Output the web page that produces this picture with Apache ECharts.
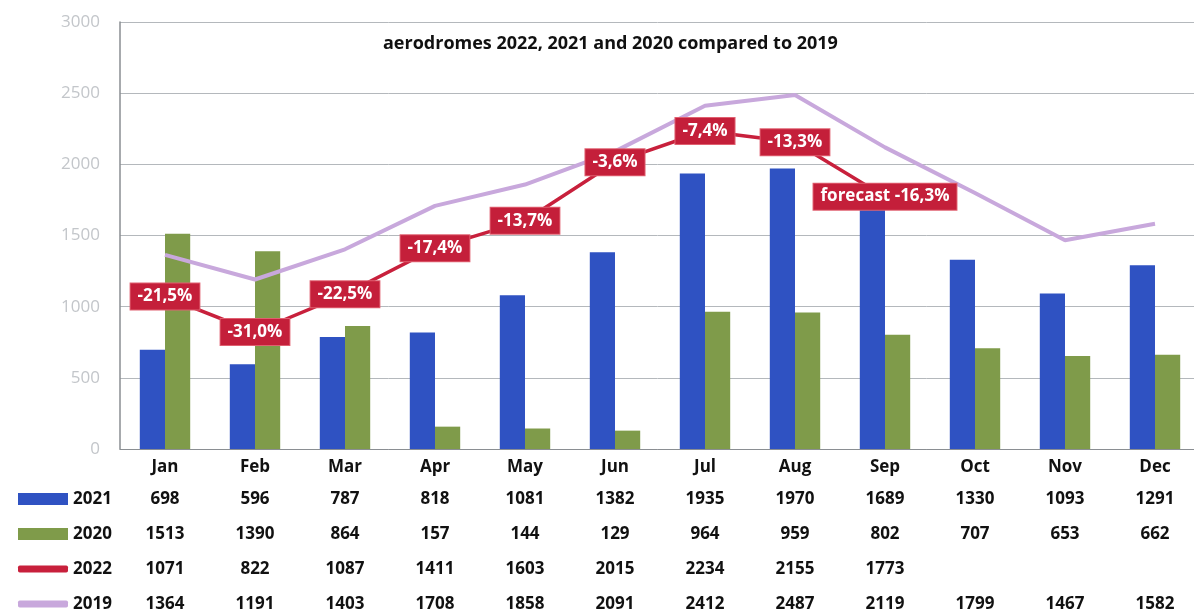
<!DOCTYPE html>
<html>
<head>
<meta charset="utf-8">
<script src="https://cdn.jsdelivr.net/npm/echarts@6/dist/echarts.min.js"></script>
<style>
  html, body { margin: 0; padding: 0; background: #fff; }
  #chart { width: 1194px; height: 609px; }
</style>
</head>
<body>
<div id="chart"></div>
<script>
var months = ["Jan", "Feb", "Mar", "Apr", "May", "Jun", "Jul", "Aug", "Sep", "Oct", "Nov", "Dec"];
var data2021 = [698, 596, 787, 818, 1081, 1382, 1935, 1970, 1689, 1330, 1093, 1291];
var data2020 = [1513, 1390, 864, 157, 144, 129, 964, 959, 802, 707, 653, 662];
var data2022 = [1071, 822, 1087, 1411, 1603, 2015, 2234, 2155, 1773];
var data2019 = [1364, 1191, 1403, 1708, 1858, 2091, 2412, 2487, 2119, 1799, 1467, 1582];
var pct2022 = ["-21,5%", "-31,0%", "-22,5%", "-17,4%", "-13,7%", "-3,6%", "-7,4%", "-13,3%", "forecast -16,3%"];

var FONT = "Open Sans";
var chart = echarts.init(document.getElementById("chart"));

// x-axis label = month + the data table column
function tableLabel(value, idx) {
  var v22 = data2022[idx] != null ? data2022[idx] : " ";
  return "{m|" + value + "}\n{v|" + data2021[idx] + "}\n{v|" + data2020[idx] + "}\n{v|" + v22 + "}\n{v|" + data2019[idx] + "}";
}

// one legend per row so each lines up with its table row
function legendRow(name, icon, h, top) {
  return {
    data: [{ name: name, icon: icon }],
    orient: "vertical",
    left: 13,
    top: top,
    itemWidth: 50,
    itemHeight: h,
    textStyle: { fontFamily: FONT, fontSize: 17, fontWeight: "bold", color: "#111", lineHeight: 20 }
  };
}

var option = {
  animation: false,
  title: {
    text: "aerodromes 2022, 2021 and 2020 compared to 2019",
    left: 378,
    top: 30,
    textStyle: { fontFamily: FONT, fontSize: 18, fontWeight: "bold", color: "#111" }
  },
  legend: [
    legendRow("2021", "rect", 12, 484),
    legendRow("2020", "rect", 12, 519),
    legendRow("2022", "roundRect", 7, 554),
    legendRow("2019", "roundRect", 7, 589)
  ],
  grid: { left: 120, right: -6, top: 22, bottom: 160, outerBoundsMode: "none" },
  xAxis: {
    type: "category",
    data: months,
    axisTick: { show: false },
    axisLine: { lineStyle: { color: "#8a8e92", width: 1 } },
    axisLabel: {
      margin: 3,
      verticalAlign: "top",
      formatter: tableLabel,
      rich: {
        m: { fontFamily: FONT, fontSize: 17, fontWeight: "bold", color: "#111", lineHeight: 30 },
        v: { fontFamily: FONT, fontSize: 17, fontWeight: "bold", color: "#111", lineHeight: 35 }
      }
    }
  },
  yAxis: {
    type: "value",
    min: 0,
    max: 3000,
    interval: 500,
    axisLine: { show: true, lineStyle: { color: "#8a8e92", width: 1.5 } },
    axisTick: { show: false },
    axisLabel: {
      margin: 20,
      fontFamily: FONT,
      fontSize: 17,
      color: "#c3c6ca",
      formatter: function (v) { return String(v); }
    },
    splitLine: { lineStyle: { color: "#b4b8bc", width: 1 } }
  },
  series: [
    {
      name: "2021",
      type: "bar",
      data: data2021,
      barGap: "0%",
      barCategoryGap: "44%",
      itemStyle: { color: "#2f52c2" }
    },
    {
      name: "2020",
      type: "bar",
      data: data2020,
      itemStyle: { color: "#7f9b4a" }
    },
    {
      name: "2019",
      type: "line",
      data: data2019,
      symbol: "none",
      lineStyle: { color: "#c8a8dc", width: 4 },
      itemStyle: { color: "#c8a8dc" },
      z: 3
    },
    {
      name: "2022",
      type: "line",
      data: data2022,
      symbol: "circle",
      symbolSize: 2,
      lineStyle: { color: "#c8203c", width: 3.5 },
      itemStyle: { color: "#c8203c" },
      z: 4,
      label: {
        show: true,
        position: "inside",
        formatter: function (p) { return pct2022[p.dataIndex]; },
        fontFamily: FONT,
        fontSize: 17,
        fontWeight: "bold",
        color: "#fff",
        backgroundColor: "#c41f3a",
        borderColor: "#e06070",
        borderWidth: 1,
        padding: [5, 7, 4, 7]
      }
    }
  ]
};

chart.setOption(option);
</script>
</body>
</html>
